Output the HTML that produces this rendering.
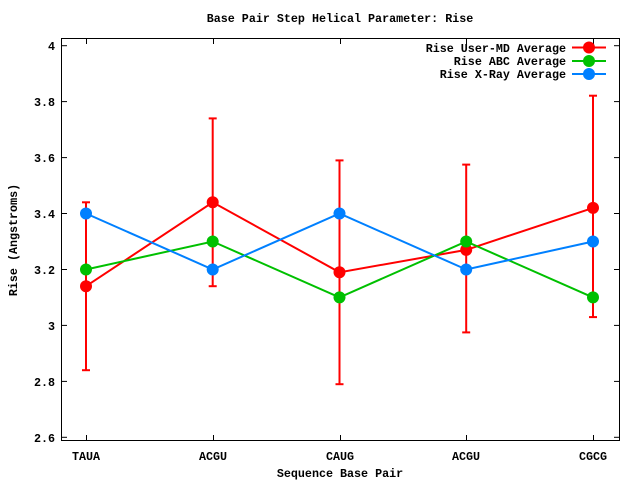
<!DOCTYPE html>
<html><head><style>
html,body{margin:0;padding:0;background:#fff;}
svg text{font-family:"Liberation Mono","DejaVu Sans Mono",monospace;font-weight:bold;font-size:11.7px;fill:#000;}
</style></head><body>
<svg width="640" height="480" viewBox="0 0 640 480" xmlns="http://www.w3.org/2000/svg">
<rect width="640" height="480" fill="#fff"/>
<text x="340" y="22" text-anchor="middle">Base Pair Step Helical Parameter: Rise</text>
<rect x="61.5" y="38.5" width="558" height="402" fill="none" stroke="#000" stroke-width="1"/>
<g stroke="#000" stroke-width="1">
<line x1="61" y1="45.7" x2="67" y2="45.7"/><line x1="620" y1="45.7" x2="614" y2="45.7"/>
<line x1="61" y1="101.6" x2="67" y2="101.6"/><line x1="620" y1="101.6" x2="614" y2="101.6"/>
<line x1="61" y1="157.6" x2="67" y2="157.6"/><line x1="620" y1="157.6" x2="614" y2="157.6"/>
<line x1="61" y1="213.5" x2="67" y2="213.5"/><line x1="620" y1="213.5" x2="614" y2="213.5"/>
<line x1="61" y1="269.5" x2="67" y2="269.5"/><line x1="620" y1="269.5" x2="614" y2="269.5"/>
<line x1="61" y1="325.4" x2="67" y2="325.4"/><line x1="620" y1="325.4" x2="614" y2="325.4"/>
<line x1="61" y1="381.4" x2="67" y2="381.4"/><line x1="620" y1="381.4" x2="614" y2="381.4"/>
<line x1="61" y1="437.3" x2="67" y2="437.3"/><line x1="620" y1="437.3" x2="614" y2="437.3"/>
<line x1="86.5" y1="440" x2="86.5" y2="435"/><line x1="86.5" y1="39" x2="86.5" y2="44"/>
<line x1="213.5" y1="440" x2="213.5" y2="435"/><line x1="213.5" y1="39" x2="213.5" y2="44"/>
<line x1="340.5" y1="440" x2="340.5" y2="435"/><line x1="340.5" y1="39" x2="340.5" y2="44"/>
<line x1="466.5" y1="440" x2="466.5" y2="435"/><line x1="466.5" y1="39" x2="466.5" y2="44"/>
<line x1="593.5" y1="440" x2="593.5" y2="435"/><line x1="593.5" y1="39" x2="593.5" y2="44"/>
</g>
<g text-anchor="end">
<text x="55" y="50">4</text><text x="55" y="106">3.8</text><text x="55" y="162">3.6</text>
<text x="55" y="218">3.4</text><text x="55" y="274">3.2</text><text x="55" y="330">3</text>
<text x="55" y="386">2.8</text><text x="55" y="442">2.6</text>
</g>
<g text-anchor="middle">
<text x="86" y="460">TAUA</text><text x="213" y="460">ACGU</text><text x="340" y="460">CAUG</text>
<text x="466" y="460">ACGU</text><text x="593" y="460">CGCG</text>
<text x="340" y="477">Sequence Base Pair</text>
</g>
<text transform="translate(17,240) rotate(-90)" text-anchor="middle">Rise (Angstroms)</text>
<g stroke="#ff0000" stroke-width="2">
<line x1="86" y1="202.3" x2="86" y2="370.2"/><line x1="82" y1="202.3" x2="90" y2="202.3"/><line x1="82" y1="370.2" x2="90" y2="370.2"/>
<line x1="212.7" y1="118.4" x2="212.7" y2="286.2"/><line x1="208.7" y1="118.4" x2="216.7" y2="118.4"/><line x1="208.7" y1="286.2" x2="216.7" y2="286.2"/>
<line x1="339.5" y1="160.4" x2="339.5" y2="384.2"/><line x1="335.5" y1="160.4" x2="343.5" y2="160.4"/><line x1="335.5" y1="384.2" x2="343.5" y2="384.2"/>
<line x1="466.2" y1="164.6" x2="466.2" y2="332.4"/><line x1="462.2" y1="164.6" x2="470.2" y2="164.6"/><line x1="462.2" y1="332.4" x2="470.2" y2="332.4"/>
<line x1="593" y1="95.7" x2="593" y2="317.1"/><line x1="589" y1="95.7" x2="597" y2="95.7"/><line x1="589" y1="317.1" x2="597" y2="317.1"/>
</g>
<g fill="none" stroke-width="2">
<polyline stroke="#ff0000" points="86,286.2 212.7,202.3 339.5,272.3 466.2,249.9 593,207.9"/>
<polyline stroke="#00c000" points="86,269.5 212.7,241.5 339.5,297.4 466.2,241.5 593,297.4"/>
<polyline stroke="#0080ff" points="86,213.5 212.7,269.5 339.5,213.5 466.2,269.5 593,241.5"/>
</g>
<g fill="#ff0000"><circle cx="86" cy="286.2" r="6"/><circle cx="212.7" cy="202.3" r="6"/><circle cx="339.5" cy="272.3" r="6"/><circle cx="466.2" cy="249.9" r="6"/><circle cx="593" cy="207.9" r="6"/></g>
<g fill="#00c000"><circle cx="86" cy="269.5" r="6"/><circle cx="212.7" cy="241.5" r="6"/><circle cx="339.5" cy="297.4" r="6"/><circle cx="466.2" cy="241.5" r="6"/><circle cx="593" cy="297.4" r="6"/></g>
<g fill="#0080ff"><circle cx="86" cy="213.5" r="6"/><circle cx="212.7" cy="269.5" r="6"/><circle cx="339.5" cy="213.5" r="6"/><circle cx="466.2" cy="269.5" r="6"/><circle cx="593" cy="241.5" r="6"/></g>
<g text-anchor="end">
<text x="566" y="52">Rise User-MD Average</text>
<text x="566" y="65">Rise ABC Average</text>
<text x="566" y="78">Rise X-Ray Average</text>
</g>
<g stroke-width="2">
<line x1="572" y1="47.5" x2="606" y2="47.5" stroke="#ff0000"/>
<line x1="572" y1="61" x2="606" y2="61" stroke="#00c000"/>
<line x1="572" y1="74" x2="606" y2="74" stroke="#0080ff"/>
</g>
<circle cx="589" cy="47.5" r="6" fill="#ff0000"/>
<circle cx="589" cy="61" r="6" fill="#00c000"/>
<circle cx="589" cy="74" r="6" fill="#0080ff"/>
</svg>
</body></html>
